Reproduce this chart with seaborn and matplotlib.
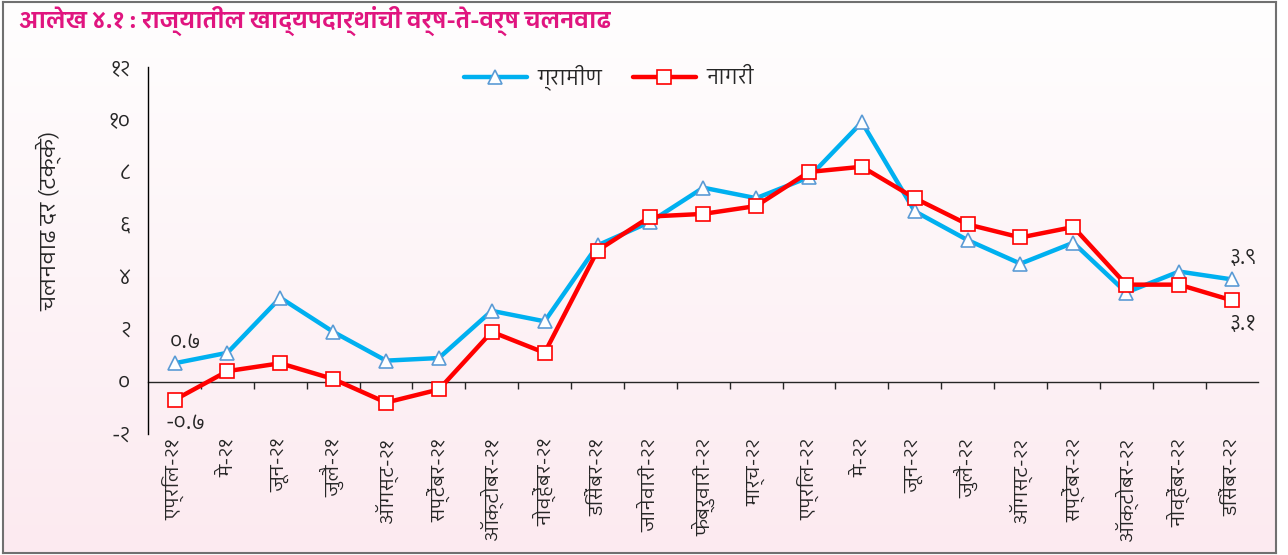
"""
आलेख ४.१ : राज्यातील खाद्यपदार्थांची वर्ष-ते-वर्ष चलनवाढ
"""
import numpy as np
import pandas as pd
import matplotlib
matplotlib.use("Agg")
import matplotlib.pyplot as plt
from matplotlib import font_manager
from matplotlib.ft2font import FT2Font
from matplotlib.colors import LinearSegmentedColormap
import seaborn as sns

# महिने
months = ["एप्रिल-२१", "मे-२१", "जून-२१", "जुलै-२१", "ऑगस्ट-२१", "सप्टेंबर-२१",
          "ऑक्टोबर-२१", "नोव्हेंबर-२१", "डिसेंबर-२१", "जानेवारी-२२", "फेब्रुवारी-२२",
          "मार्च-२२", "एप्रिल-२२", "मे-२२", "जून-२२", "जुलै-२२", "ऑगस्ट-२२",
          "सप्टेंबर-२२", "ऑक्टोबर-२२", "नोव्हेंबर-२२", "डिसेंबर-२२"]

# ग्रामीण / नागरी (टक्के)
rural = [0.7, 1.1, 3.2, 1.9, 0.8, 0.9, 2.7, 2.3, 5.2, 6.1, 7.4, 7.0,
         7.8, 9.9, 6.5, 5.4, 4.5, 5.3, 3.4, 4.2, 3.9]
urban = [-0.7, 0.4, 0.7, 0.1, -0.8, -0.3, 1.9, 1.1, 5.0, 6.3, 6.4, 6.7,
         8.0, 8.2, 7.0, 6.0, 5.5, 5.9, 3.7, 3.7, 3.1]

yticks = [-2, 0, 2, 4, 6, 8, 10, 12]
ytick_labels = ["-२", "०", "२", "४", "६", "८", "१०", "१२"]

# लेबल दिलेले बिंदू: (मालिका, index, मजकूर)
point_labels = [("rural", 0, "०.७"), ("urban", 0, "-०.७"),
                ("rural", 20, "३.९"), ("urban", 20, "३.१")]


def find_devanagari_font():
    # देवनागरी असलेले फॉन्ट शोधा, Mono नसलेले आधी
    found = []
    for f in font_manager.fontManager.ttflist:
        try:
            if 0x0915 in FT2Font(f.fname).get_charmap():
                found.append(f.name)
        except Exception:
            continue
    found = sorted(set(found), key=lambda n: ("Mono" in n, "Devanagari" not in n,
                                               "Sans" not in n, n))
    return found[0] if found else None


sns.set_style("white")
deva = find_devanagari_font()
families = ([deva] if deva else []) + ["DejaVu Sans"]
plt.rcParams["font.family"] = families

blue = "#00B0F0"
red = "#FF0000"

df = pd.DataFrame({"pos": np.arange(len(months)), "rural": rural, "urban": urban})

fig = plt.figure(figsize=(12.88, 5.55), dpi=100, facecolor="white")

# पार्श्वभूमी: वर पांढरा, खाली फिकट गुलाबी
bgax = fig.add_axes([0.0023, 0.004, 0.9884, 0.992], zorder=-1)
grad = np.linspace(0, 1, 256).reshape(-1, 1)
bgax.imshow(grad, aspect="auto",
            cmap=LinearSegmentedColormap.from_list("bg", ["#FFFEFE", "#FCEAF0"]))
bgax.set_xticks([])
bgax.set_yticks([])
for s in bgax.spines.values():
    s.set_edgecolor("#707070")
    s.set_linewidth(1.5)

ax = fig.add_axes([0.115, 0.218, 0.862, 0.661])
ax.set_facecolor("none")

sns.lineplot(data=df, x="pos", y="rural", ax=ax, color=blue, lw=3.2,
             marker="^", markersize=10, markerfacecolor="white",
             markeredgecolor="#5B9BD5", markeredgewidth=1.2, label="ग्रामीण")
sns.lineplot(data=df, x="pos", y="urban", ax=ax, color=red, lw=3.2,
             marker="s", markersize=10, markerfacecolor="white",
             markeredgecolor=red, markeredgewidth=1.2, label="नागरी")

ax.set_xlim(-0.5, len(months) - 0.5)
ax.set_ylim(-2, 12)
ax.set_yticks(yticks)
ax.set_yticklabels(ytick_labels, fontsize=15)
ax.set_xticks(df["pos"])
ax.set_xticklabels(months, rotation=90, fontsize=14, va="top")
ax.tick_params(axis="x", length=0, pad=3)
ax.tick_params(axis="y", direction="out", length=5, width=1, color="black", pad=8)
ax.set_xlabel("")
ax.set_ylabel("चलनवाढ दर (टक्के)", fontsize=16)
ax.yaxis.set_label_coords(-0.078, 0.58)

for s in ["top", "right", "bottom"]:
    ax.spines[s].set_visible(False)
ax.spines["left"].set_color("black")
ax.spines["left"].set_linewidth(1)

# शून्य रेषा आणि महिन्यांमधील खुणा
zero = ax.secondary_xaxis(2 / 14)
zero.set_xticks(df["pos"][:-1] + 0.5)
zero.set_xticklabels([])
zero.tick_params(direction="out", length=5, width=1)
zero.spines["bottom"].set_linewidth(1)

for series, i, txt in point_labels:
    y = df[series][i]
    off = 15 if y >= df[["rural", "urban"]].iloc[i].max() else -17
    ax.annotate(txt, (i, y), xytext=(8, off), textcoords="offset points",
                ha="center", va="center", fontsize=15)

leg = ax.legend(loc="upper center", bbox_to_anchor=(0.415, 1.06), ncol=2,
                frameon=False, fontsize=15, handlelength=3, columnspacing=1.5,
                handletextpad=0.5)

fig.text(0.015, 0.963, "आलेख ४.१ : राज्यातील खाद्यपदार्थांची वर्ष-ते-वर्ष चलनवाढ",
         color="#E0157F", fontsize=16.5, fontweight="bold", va="center")

plt.savefig("out.png", dpi=100, facecolor="white")
plt.close()
